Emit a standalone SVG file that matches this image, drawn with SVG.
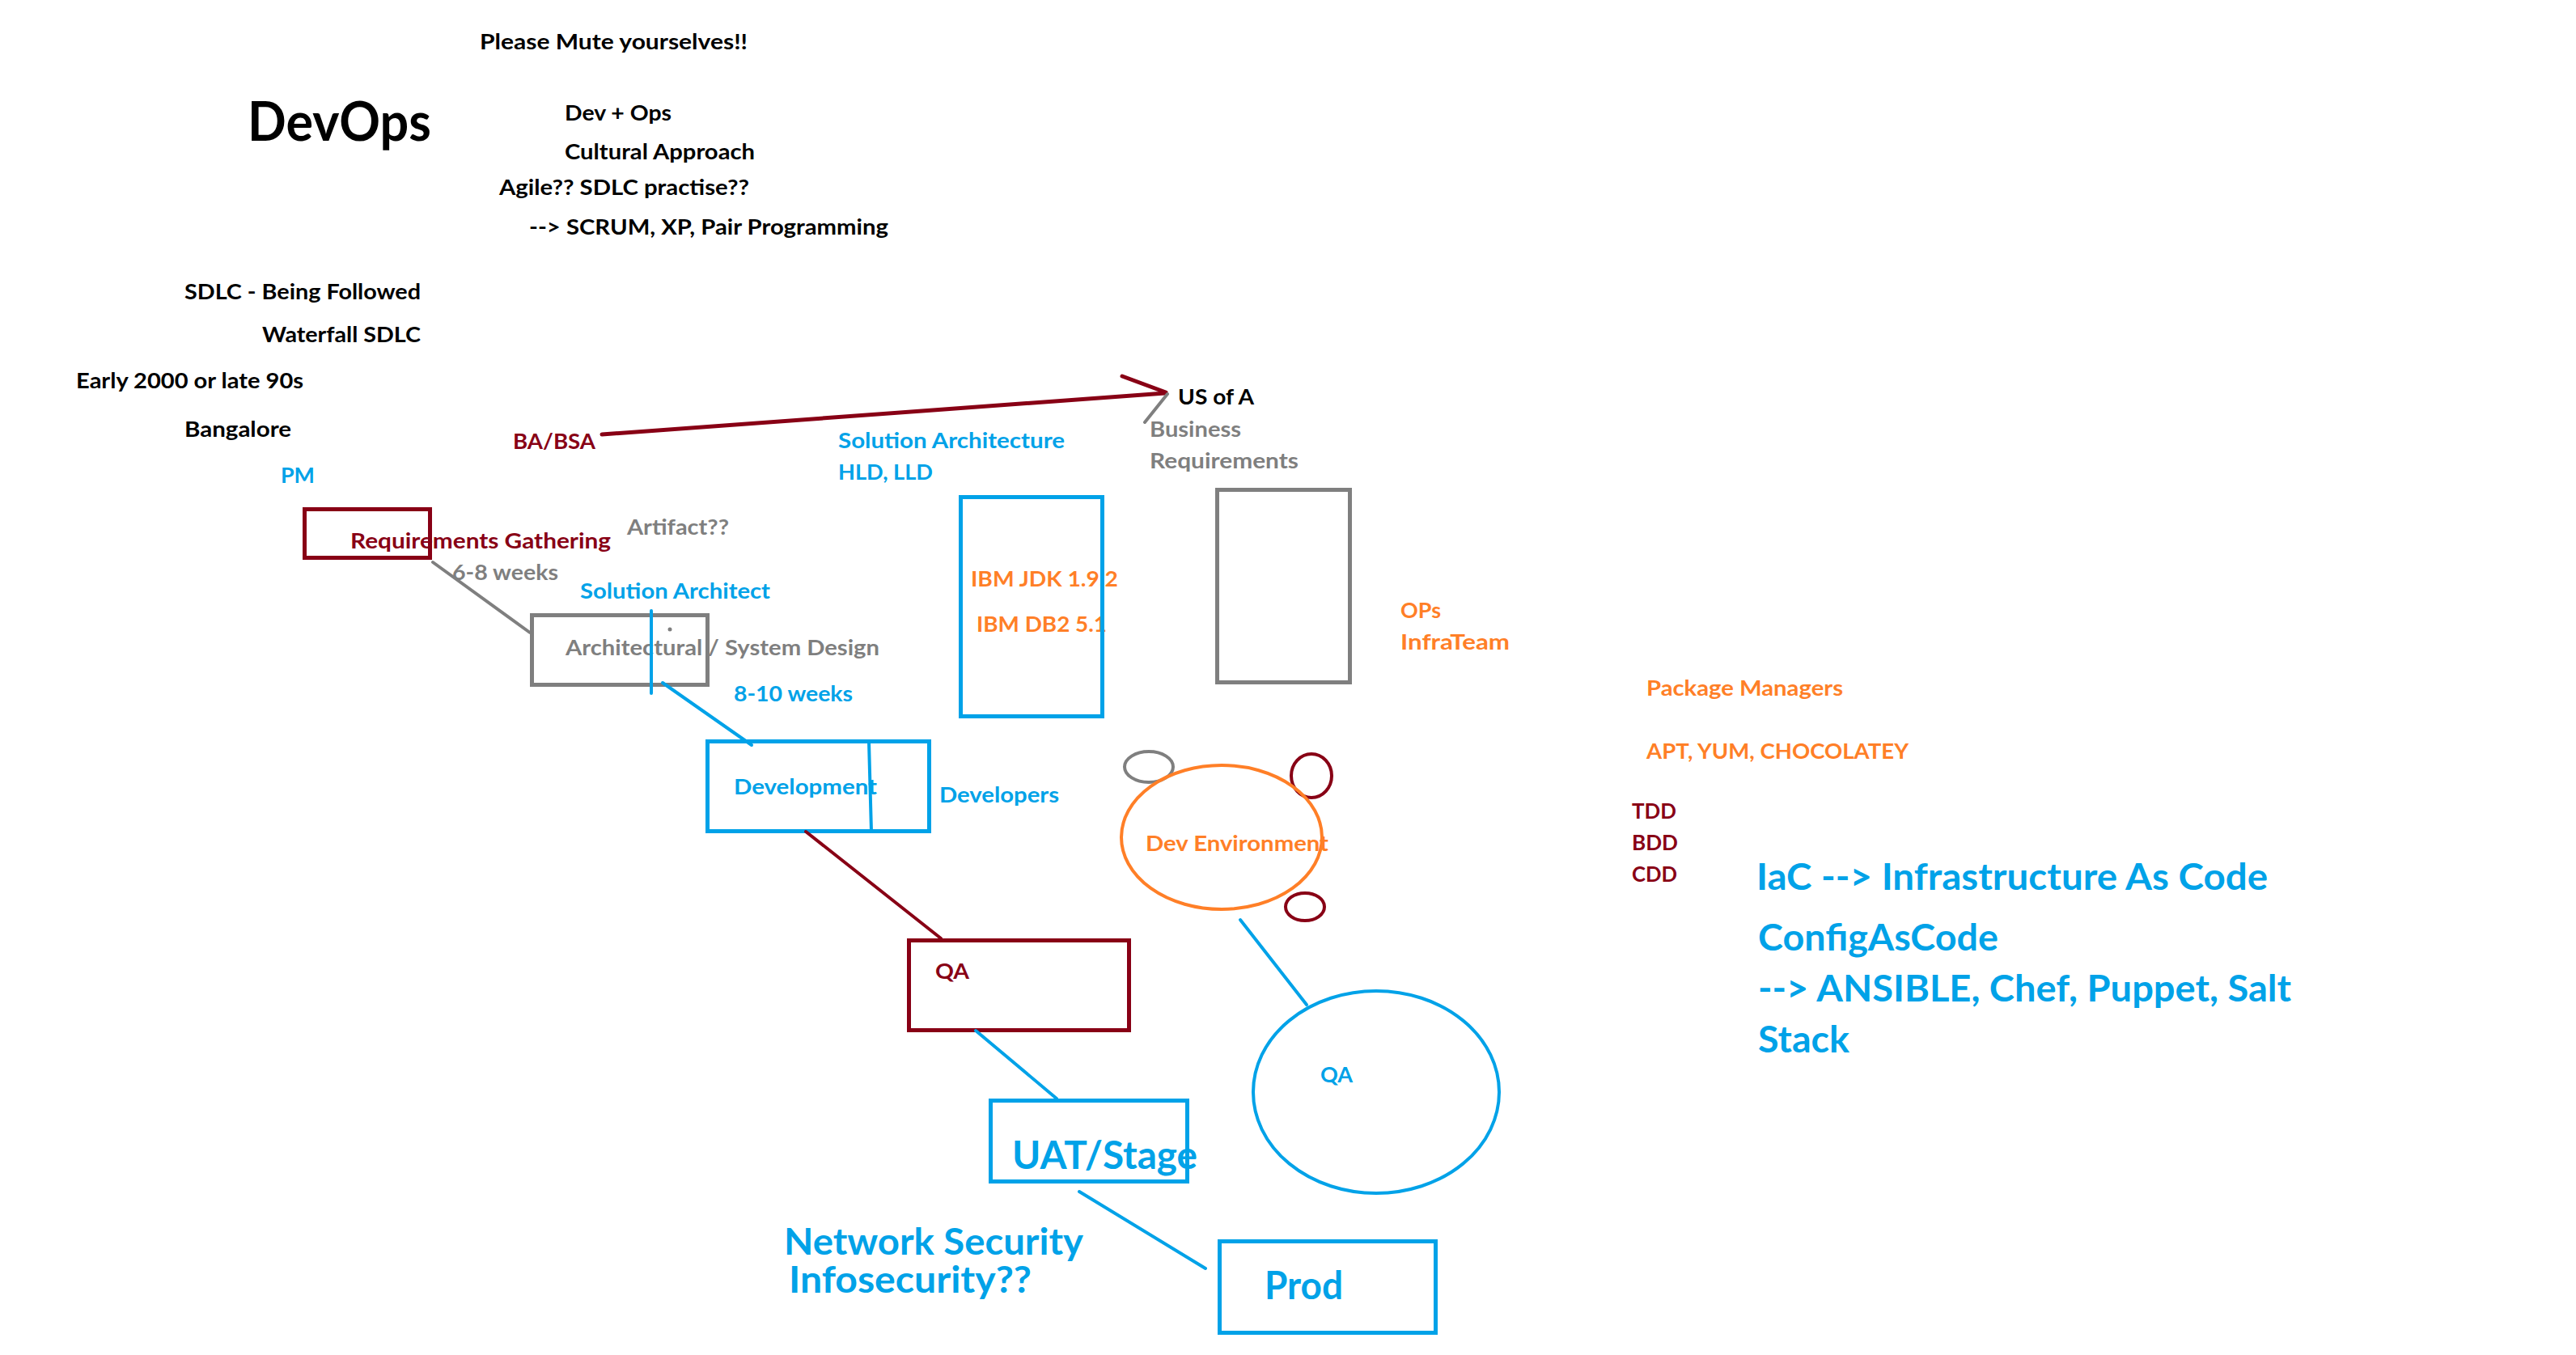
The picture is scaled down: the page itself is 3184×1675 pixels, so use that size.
<svg xmlns="http://www.w3.org/2000/svg" width="3184" height="1675" viewBox="0 0 3184 1675">
<style>
.t{font-family:Lato,"Liberation Sans","DejaVu Sans",sans-serif;font-weight:bold;font-size:27px}
.big{font-size:46px}
.k{fill:#000}.r{fill:#880015}.g{fill:#7f7f7f}.b{fill:#00a2e8}.o{fill:#ff7f27}
.bx{fill:none;stroke-width:5}
.sr{stroke:#880015}.sg{stroke:#7f7f7f}.sb{stroke:#00a2e8}.so{stroke:#ff7f27}
.ln{fill:none;stroke-width:4;stroke-linecap:round}
</style>
<rect x="0" y="0" width="3184" height="1675" fill="#fff"/>
<g id="notes">
<text class="t k" x="593" y="61" textLength="331" lengthAdjust="spacingAndGlyphs">Please Mute yourselves!!</text>
<text class="t k" x="306" y="174" style="font-size:67px" textLength="227" lengthAdjust="spacingAndGlyphs">DevOps</text>
<text class="t k" x="698" y="149" textLength="132" lengthAdjust="spacingAndGlyphs">Dev + Ops</text>
<text class="t k" x="698" y="197" textLength="235" lengthAdjust="spacingAndGlyphs">Cultural Approach</text>
<text class="t k" x="617" y="241" textLength="309" lengthAdjust="spacingAndGlyphs">Agile?? SDLC practise??</text>
<text class="t k" x="654" y="290" textLength="444" lengthAdjust="spacingAndGlyphs">--&gt; SCRUM, XP, Pair Programming</text>
<text class="t k" x="228" y="370" textLength="292" lengthAdjust="spacingAndGlyphs">SDLC - Being Followed</text>
<text class="t k" x="324" y="423" textLength="196" lengthAdjust="spacingAndGlyphs">Waterfall SDLC</text>
<text class="t k" x="94" y="480" textLength="281" lengthAdjust="spacingAndGlyphs">Early 2000 or late 90s</text>
<text class="t k" x="228" y="540" textLength="132" lengthAdjust="spacingAndGlyphs">Bangalore</text>
<text class="t r" x="634" y="555" textLength="102" lengthAdjust="spacingAndGlyphs">BA/BSA</text>
<text class="t b" x="347" y="597" textLength="42" lengthAdjust="spacingAndGlyphs">PM</text>
<text class="t b" x="1036" y="554" textLength="280" lengthAdjust="spacingAndGlyphs">Solution Architecture</text>
<text class="t b" x="1036" y="593" textLength="117" lengthAdjust="spacingAndGlyphs">HLD, LLD</text>
<text class="t g" x="775" y="661" textLength="126" lengthAdjust="spacingAndGlyphs">Artifact??</text>
<text class="t g" x="559" y="717" textLength="131" lengthAdjust="spacingAndGlyphs">6-8 weeks</text>
<text class="t b" x="717" y="740" textLength="235" lengthAdjust="spacingAndGlyphs">Solution Architect</text>
<text class="t b" x="907" y="867" textLength="147" lengthAdjust="spacingAndGlyphs">8-10 weeks</text>
<text class="t k" x="1456" y="500" textLength="94" lengthAdjust="spacingAndGlyphs">US of A</text>
<text class="t g" x="1421" y="540" textLength="113" lengthAdjust="spacingAndGlyphs">Business</text>
<text class="t g" x="1421" y="579" textLength="184" lengthAdjust="spacingAndGlyphs">Requirements</text>
<text class="t o" x="1731" y="764" textLength="50" lengthAdjust="spacingAndGlyphs">OPs</text>
<text class="t o" x="1731" y="803" textLength="135" lengthAdjust="spacingAndGlyphs">InfraTeam</text>
<text class="t b" x="1161" y="992" textLength="148" lengthAdjust="spacingAndGlyphs">Developers</text>
<text class="t b big" x="969" y="1551" textLength="370" lengthAdjust="spacingAndGlyphs">Network Security</text>
<text class="t b big" x="975" y="1598" textLength="300" lengthAdjust="spacingAndGlyphs">Infosecurity??</text>
<text class="t o" x="2035" y="860" textLength="243" lengthAdjust="spacingAndGlyphs">Package Managers</text>
<text class="t o" x="2035" y="938" textLength="324" lengthAdjust="spacingAndGlyphs">APT, YUM, CHOCOLATEY</text>
<text class="t r" x="2017" y="1012" textLength="55" lengthAdjust="spacingAndGlyphs">TDD</text>
<text class="t r" x="2017" y="1051" textLength="57" lengthAdjust="spacingAndGlyphs">BDD</text>
<text class="t r" x="2017" y="1090" textLength="56" lengthAdjust="spacingAndGlyphs">CDD</text>
<text class="t b big" x="2171" y="1100" textLength="632" lengthAdjust="spacingAndGlyphs">IaC --&gt; Infrastructure As Code</text>
<text class="t b big" x="2173" y="1175" textLength="297" lengthAdjust="spacingAndGlyphs">ConfigAsCode</text>
<text class="t b big" x="2173" y="1238" textLength="659" lengthAdjust="spacingAndGlyphs">--&gt; ANSIBLE, Chef, Puppet, Salt</text>
<text class="t b big" x="2173" y="1301" textLength="113" lengthAdjust="spacingAndGlyphs">Stack</text>
</g>
<g id="requirements">
<text class="t r" x="433" y="678" textLength="322" lengthAdjust="spacingAndGlyphs">Requirements Gathering</text>
<rect class="bx sr" x="376.5" y="629.5" width="155" height="60"/>
</g>
<g id="architecture">
<text class="t g" x="699" y="810" textLength="388" lengthAdjust="spacingAndGlyphs">Architectural / System Design</text>
<rect class="bx sg" x="657.5" y="760.5" width="217" height="86"/>
<circle cx="828" cy="778" r="2.5" fill="#7f7f7f"/>
</g>
<g id="ibm">
<text class="t o" x="1200" y="725" textLength="182" lengthAdjust="spacingAndGlyphs">IBM JDK 1.9.2</text>
<text class="t o" x="1207" y="781" textLength="161" lengthAdjust="spacingAndGlyphs">IBM DB2 5.1</text>
<rect class="bx sb" x="1187.5" y="614.5" width="175" height="271"/>
</g>
<g id="business">
<rect class="bx sg" x="1504.5" y="605.5" width="164" height="238"/>
</g>
<g id="development">
<text class="t b" x="907" y="982" textLength="177" lengthAdjust="spacingAndGlyphs">Development</text>
<rect class="bx sb" x="874.5" y="916.5" width="274" height="111"/>
</g>
<g id="devenv">
<ellipse class="ln sg" cx="1420" cy="948" rx="30" ry="19"/>
<ellipse class="ln sr" cx="1621" cy="959" rx="25" ry="27"/>
<ellipse class="ln so" cx="1510" cy="1035" rx="124" ry="89"/>
<ellipse class="ln sr" cx="1613" cy="1121" rx="24" ry="17"/>
<text class="t o" x="1416" y="1052" textLength="226" lengthAdjust="spacingAndGlyphs">Dev Environment</text>
</g>
<g id="qa">
<rect class="bx sr" x="1123.5" y="1162.5" width="272" height="111"/>
<text class="t r" x="1156" y="1210" textLength="42" lengthAdjust="spacingAndGlyphs">QA</text>
</g>
<g id="qa-env">
<ellipse class="ln sb" cx="1701" cy="1350" rx="152" ry="125"/>
<text class="t b" x="1632" y="1338" textLength="40" lengthAdjust="spacingAndGlyphs">QA</text>
</g>
<g id="uat">
<rect class="bx sb" x="1224.5" y="1360.5" width="243" height="100"/>
<text class="t b" x="1251" y="1445" style="font-size:48px" textLength="229" lengthAdjust="spacingAndGlyphs">UAT/Stage</text>
</g>
<g id="prod">
<rect class="bx sb" x="1507.5" y="1534.5" width="267" height="113"/>
<text class="t b" x="1563" y="1606" style="font-size:47px" textLength="97" lengthAdjust="spacingAndGlyphs">Prod</text>
</g>
<g id="connectors">
<path class="ln sr" style="stroke-width:5" d="M744 537 L1440 486 M1387 465 L1441 485"/>
<path class="ln sg" d="M1443 487 L1415 522"/>
<path class="ln sg" d="M535 695 L655 782"/>
<path class="ln sb" d="M805 755 L805 857"/>
<path class="ln sb" d="M819 844 L929 921"/>
<path class="ln sb" d="M1074 917 L1077 1028"/>
<path class="ln sr" d="M996 1028 L1163 1160"/>
<path class="ln sb" d="M1533 1137 L1615 1242"/>
<path class="ln sb" d="M1206 1274 L1306 1358"/>
<path class="ln sb" d="M1334 1473 L1490 1568"/>
</g>
</svg>
